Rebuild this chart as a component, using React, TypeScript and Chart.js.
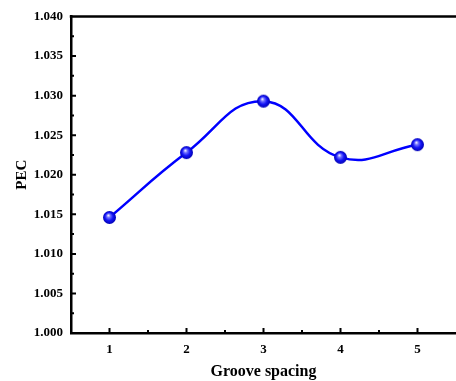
import React, { useEffect, useRef } from "react";
import { Chart, registerables } from "chart.js";

Chart.register(...registerables);

// Groove spacing vs. PEC
const grooveSpacing = [1, 2, 3, 4, 5];
const pecValues = [1.0146, 1.0228, 1.0293, 1.0222, 1.0238];

const xTicks = [1, 2, 3, 4, 5];
const xMinorTicks = [1.5, 2.5, 3.5, 4.5];
const yTicks = [1.0, 1.005, 1.01, 1.015, 1.02, 1.025, 1.03, 1.035, 1.04];
const yMinorTicks = [1.0025, 1.0075, 1.0125, 1.0175, 1.0225, 1.0275, 1.0325, 1.0375];

const FONT = "'Liberation Serif', 'Times New Roman', serif";

// Shaded blue sphere used as the point marker
function makeSphere(radius: number): HTMLCanvasElement {
  const size = Math.ceil(radius * 2 + 2);
  const c = document.createElement("canvas");
  c.width = size;
  c.height = size;
  const g = c.getContext("2d")!;
  const cx = size / 2;
  const cy = size / 2;
  const grad = g.createRadialGradient(cx - 1.2, cy - 2.2, 0.3, cx, cy, radius);
  grad.addColorStop(0, "#ececff");
  grad.addColorStop(0.25, "#7070ff");
  grad.addColorStop(0.6, "#1414f5");
  grad.addColorStop(1, "#0000b4");
  g.fillStyle = grad;
  g.beginPath();
  g.arc(cx, cy, radius, 0, Math.PI * 2);
  g.fill();
  return c;
}

// Top frame line and inward major/minor ticks
const framePlugin = {
  id: "frameTicks",
  afterDraw(chart: any) {
    const { ctx, chartArea, scales } = chart;
    const { left, right, top, bottom } = chartArea;
    ctx.save();
    ctx.strokeStyle = "#000";
    ctx.lineWidth = 2.5;
    ctx.beginPath();
    ctx.moveTo(left - 1.25, top);
    ctx.lineTo(right, top);
    ctx.stroke();

    const drawX = (vals: number[], len: number, w: number) => {
      ctx.lineWidth = w;
      ctx.beginPath();
      vals.forEach((v) => {
        const px = scales.x.getPixelForValue(v);
        ctx.moveTo(px, bottom);
        ctx.lineTo(px, bottom - len);
      });
      ctx.stroke();
    };
    const drawY = (vals: number[], len: number, w: number) => {
      ctx.lineWidth = w;
      ctx.beginPath();
      vals.forEach((v) => {
        const py = scales.y.getPixelForValue(v);
        ctx.moveTo(left, py);
        ctx.lineTo(left + len, py);
      });
      ctx.stroke();
    };
    drawX(xTicks, 5, 2);
    drawX(xMinorTicks, 3, 2);
    drawY(yTicks.slice(1, -1), 5, 2);
    drawY(yMinorTicks, 3, 2);
    ctx.restore();
  },
};

export default function App() {
  const canvasRef = useRef<HTMLCanvasElement>(null);

  useEffect(() => {
    const canvas = canvasRef.current;
    if (!canvas) return;
    const sphere = makeSphere(6.5);

    const chart = new Chart(canvas, {
      type: "line",
      data: {
        datasets: [
          {
            data: grooveSpacing.map((x, i) => ({ x, y: pecValues[i] })),
            borderColor: "#0000ff",
            borderWidth: 2.5,
            tension: 0.45,
            pointStyle: sphere as any,
            pointRadius: 6.5,
            pointHoverRadius: 6.5,
            fill: false,
          },
        ],
      },
      options: {
        animation: false,
        responsive: false,
        devicePixelRatio: 1,
        events: [],
        layout: { padding: { top: 16.5, left: 0, right: 0, bottom: 0 } },
        plugins: {
          legend: { display: false },
          tooltip: { enabled: false },
        },
        scales: {
          x: {
            type: "linear",
            min: 0.5,
            max: 5.5,
            grid: { display: false, drawTicks: false, tickLength: 0 },
            border: { display: true, color: "#000", width: 2.5 },
            afterBuildTicks: (scale: any) => {
              scale.ticks = xTicks.map((v) => ({ value: v }));
            },
            afterFit: (scale: any) => {
              scale.height = 48;
            },
            ticks: {
              color: "#000",
              padding: 8.5,
              font: { family: FONT, size: 13, weight: "bold" },
              callback: (v: any) => String(v),
            },
            title: {
              display: true,
              text: "Groove spacing",
              color: "#000",
              padding: { top: 0, bottom: 0 },
              font: { family: FONT, size: 16, weight: "bold" },
            },
          },
          y: {
            type: "linear",
            min: 1.0,
            max: 1.04,
            grid: { display: false, drawTicks: false, tickLength: 0 },
            border: { display: true, color: "#000", width: 2.5 },
            afterBuildTicks: (scale: any) => {
              scale.ticks = yTicks.map((v) => ({ value: v }));
            },
            afterFit: (scale: any) => {
              scale.width = 71;
            },
            ticks: {
              color: "#000",
              padding: 8,
              font: { family: FONT, size: 13, weight: "bold" },
              callback: (v: any) => Number(v).toFixed(3),
            },
            title: {
              display: true,
              text: "PEC",
              color: "#000",
              padding: { top: 13.5, bottom: 0 },
              font: { family: FONT, size: 15, weight: "bold" },
            },
          },
        },
      },
      plugins: [framePlugin],
    });

    return () => chart.destroy();
  }, []);

  return (
    <div
      style={{
        position: "fixed",
        left: 0,
        top: 0,
        width: 456,
        height: 381,
        overflow: "hidden",
        background: "#fff",
      }}
    >
      <canvas ref={canvasRef} width={465} height={381} style={{ display: "block" }} />
    </div>
  );
}
